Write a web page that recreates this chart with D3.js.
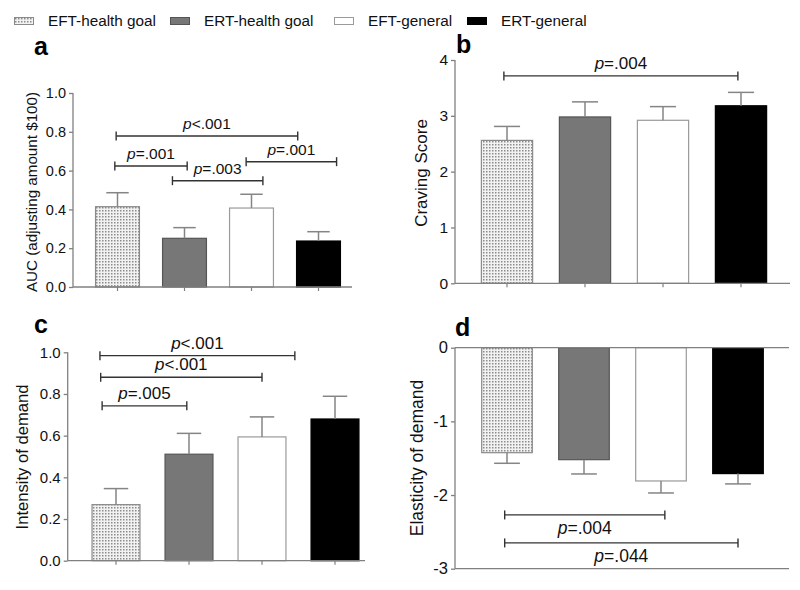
<!DOCTYPE html>
<html>
<head>
<meta charset="utf-8">
<script src="https://cdn.jsdelivr.net/npm/d3@7"></script>
<style>
  html, body { margin: 0; padding: 0; background: #fff; }
  svg { display: block; font-family: "Liberation Sans", Arial, Helvetica, sans-serif; }
</style>
</head>
<body>
<svg id="chart" width="800" height="590"></svg>
<script>
// ---------- data ----------
const groups = ["EFT-health goal", "ERT-health goal", "EFT-general", "ERT-general"];

const aucMean = [0.414, 0.251, 0.407, 0.237];
const aucErr  = [0.072, 0.055, 0.071, 0.048];
const aucTicks = [0, 0.2, 0.4, 0.6, 0.8, 1.0];
const aucBrackets = [
  { from: -0.02, to: 2.69, y: 0.778, sign: "<", val: ".001" },
  { from: -0.04, to: 1.04, y: 0.624, sign: "=", val: ".001" },
  { from: 0.82, to: 2.17, y: 0.548, sign: "=", val: ".003" },
  { from: 1.92, to: 3.27, y: 0.646, sign: "=", val: ".001" }
];

const cravingMean = [2.56, 2.98, 2.92, 3.18];
const cravingErr  = [0.25, 0.27, 0.245, 0.24];
const cravingTicks = [0, 1, 2, 3, 4];
const cravingBrackets = [
  { from: -0.04, to: 2.96, y: 3.715, sign: "=", val: ".004" }
];

const intensityMean = [0.269, 0.511, 0.594, 0.680];
const intensityErr  = [0.077, 0.100, 0.096, 0.109];
const intensityTicks = [0, 0.2, 0.4, 0.6, 0.8, 1.0];
const intensityBrackets = [
  { from: -0.22, to: 2.45, y: 0.984, sign: "<", val: ".001" },
  { from: -0.21, to: 2.00, y: 0.880, sign: "<", val: ".001" },
  { from: -0.19, to: 0.97, y: 0.743, sign: "=", val: ".005" }
];

const elasticityMean = [-1.425, -1.520, -1.809, -1.709];
const elasticityErr  = [0.144, 0.194, 0.163, 0.140];
const elasticityTicks = [0, -1, -2, -3];
const elasticityBrackets = [
  { from: -0.03, to: 2.05, y: -2.27, sign: "=", val: ".004" },
  { from: -0.03, to: 3.00, y: -2.65, sign: "=", val: ".044" }
];

// ---------- styles ----------
const fills   = ["url(#dots)", "#777777", "#ffffff", "#000000"];
const strokes = ["#8a8a8a", "#555555", "#9a9a9a", "#000000"];
const axisColor = "#808080";
const errColor = "#858585";
const brColor = "#333333";

const svg = d3.select("#chart");
const defs = svg.append("defs");
const pat = defs.append("pattern").attr("id", "dots")
  .attr("patternUnits", "userSpaceOnUse").attr("width", 3).attr("height", 3);
pat.append("rect").attr("width", 3).attr("height", 3).attr("fill", "#f2f2f2");
pat.append("rect").attr("x", 0).attr("y", 0).attr("width", 1.5).attr("height", 1.5).attr("fill", "#8c8c8c");

// ---------- legend ----------
const legendX = [14, 170, 334, 467];
const leg = svg.append("g");
groups.forEach((g, i) => {
  leg.append("rect").attr("x", legendX[i] + 0.5).attr("y", 17.5).attr("width", 19).attr("height", 7)
    .attr("fill", fills[i]).attr("stroke", strokes[i]).attr("stroke-width", 1);
  leg.append("text").attr("x", legendX[i] + 34).attr("y", 25.5)
    .attr("font-size", 15.3).attr("fill", "#111").text(g);
});

// ---------- panel drawer ----------
function panel(cfg) {
  const g = svg.append("g");
  const x = d3.scaleBand().domain(groups).range(cfg.band).paddingInner(0.33).paddingOuter(0.165);
  const y = d3.scaleLinear().domain(cfg.domain).range(cfg.yRange);
  const step = x.step();
  const cx = idx => x(groups[0]) + x.bandwidth() / 2 + idx * step;
  const zero = y(0);

  // bars
  g.selectAll("rect.bar").data(cfg.mean).join("rect")
    .attr("x", (d, i) => x(groups[i]) + 0.5)
    .attr("y", d => Math.min(y(d), zero))
    .attr("width", x.bandwidth() - 1)
    .attr("height", d => Math.abs(y(d) - zero))
    .attr("fill", (d, i) => fills[i])
    .attr("stroke", (d, i) => strokes[i])
    .attr("stroke-width", 1.2);

  // error bars (one-sided)
  const capHalf = x.bandwidth() * 0.25;
  cfg.mean.forEach((m, i) => {
    const e = m >= 0 ? m + cfg.err[i] : m - cfg.err[i];
    const c = cx(i);
    g.append("line").attr("x1", c).attr("x2", c).attr("y1", y(m)).attr("y2", y(e))
      .attr("stroke", errColor).attr("stroke-width", 1.5);
    g.append("line").attr("x1", c - capHalf).attr("x2", c + capHalf).attr("y1", y(e)).attr("y2", y(e))
      .attr("stroke", errColor).attr("stroke-width", 1.5);
  });

  // y axis
  const ya = g.append("g").attr("transform", `translate(${cfg.axisX},0)`)
    .call(d3.axisLeft(y).tickValues(cfg.ticks).tickSize(4).tickPadding(3)
      .tickFormat(cfg.fmt));
  ya.select(".domain").attr("stroke", axisColor).attr("stroke-width", 1.3)
    .attr("d", `M0,${y(cfg.domain[0])}V${y(cfg.domain[1])}`);
  ya.selectAll(".tick line").attr("stroke", axisColor).attr("stroke-width", 1.3);
  ya.selectAll(".tick text").attr("font-size", cfg.tickFont).attr("fill", "#111")
    .attr("font-family", '"Liberation Sans", Arial, sans-serif');

  // x axis lines
  cfg.hLines.forEach(v => {
    g.append("line").attr("x1", cfg.axisX).attr("x2", cfg.axisRight)
      .attr("y1", y(v)).attr("y2", y(v)).attr("stroke", axisColor).attr("stroke-width", 1.3);
  });
  if (cfg.xTicks) {
    groups.forEach((gr, i) => {
      g.append("line").attr("x1", cx(i)).attr("x2", cx(i)).attr("y1", zero).attr("y2", zero + 4)
        .attr("stroke", axisColor).attr("stroke-width", 1.2);
    });
  }

  // brackets
  cfg.brackets.forEach(b => {
    const x1 = cx(b.from), x2 = cx(b.to), yy = y(b.y);
    g.append("line").attr("x1", x1).attr("x2", x2).attr("y1", yy).attr("y2", yy)
      .attr("stroke", brColor).attr("stroke-width", 1.4);
    [x1, x2].forEach(xx => g.append("line").attr("x1", xx).attr("x2", xx)
      .attr("y1", yy - 4.5).attr("y2", yy + 4.5).attr("stroke", brColor).attr("stroke-width", 1.4));
    const t = g.append("text").attr("x", (x1 + x2) / 2)
      .attr("y", cfg.labelBelow ? yy + 19 : yy - 7)
      .attr("text-anchor", "middle").attr("font-size", cfg.pFont).attr("fill", "#111");
    t.append("tspan").attr("font-style", "italic").text("p");
    t.append("tspan").text(b.sign + b.val);
  });

  // y label
  g.append("text")
    .attr("transform", `translate(${cfg.labelX},${cfg.labelY}) rotate(-90)`)
    .attr("text-anchor", "middle").attr("dy", "0.35em")
    .attr("font-size", cfg.labelFont).attr("fill", "#111").text(cfg.label);

  // panel letter
  g.append("text").attr("x", cfg.letterX).attr("y", cfg.letterY)
    .attr("font-size", 25).attr("font-weight", "bold").attr("fill", "#000").text(cfg.letter);
}

const f1 = d3.format(".1f");
const f0 = d => String(d);   // plain hyphen-minus like the reference

panel({
  letter: "a", letterX: 34, letterY: 55,
  mean: aucMean, err: aucErr, ticks: aucTicks, brackets: aucBrackets,
  band: [84, 352], axisX: 73, axisRight: 352, domain: [0, 1], yRange: [287, 93],
  hLines: [0], xTicks: true, fmt: f1, tickFont: 14.5, pFont: 15.5,
  label: "AUC (adjusting amount $100)", labelX: 32, labelY: 192, labelFont: 15.2
});

panel({
  letter: "b", letterX: 456, letterY: 53,
  mean: cravingMean, err: cravingErr, ticks: cravingTicks, brackets: cravingBrackets,
  band: [468, 780], axisX: 455, axisRight: 790, domain: [0, 4], yRange: [283.3, 60],
  hLines: [0], xTicks: true, fmt: f0, tickFont: 15.5, pFont: 17,
  label: "Craving Score", labelX: 421, labelY: 173, labelFont: 17
});

panel({
  letter: "c", letterX: 34, letterY: 333,
  mean: intensityMean, err: intensityErr, ticks: intensityTicks, brackets: intensityBrackets,
  band: [79.5, 371.5], axisX: 67.7, axisRight: 365, domain: [0, 1], yRange: [560.7, 352.3],
  hLines: [0], xTicks: true, fmt: f1, tickFont: 15, pFont: 17,
  label: "Intensity of demand", labelX: 22, labelY: 457, labelFont: 16.6
});

panel({
  letter: "d", letterX: 455, letterY: 336,
  mean: elasticityMean, err: elasticityErr, ticks: elasticityTicks, brackets: elasticityBrackets,
  band: [468.5, 776.5], axisX: 455, axisRight: 789, domain: [-3, 0], yRange: [568.7, 347.7],
  hLines: [0, -3], xTicks: false, fmt: f0, tickFont: 16.5, pFont: 17.5, labelBelow: true,
  label: "Elasticity of demand", labelX: 417, labelY: 458, labelFont: 17.5
});
</script>
</body>
</html>
